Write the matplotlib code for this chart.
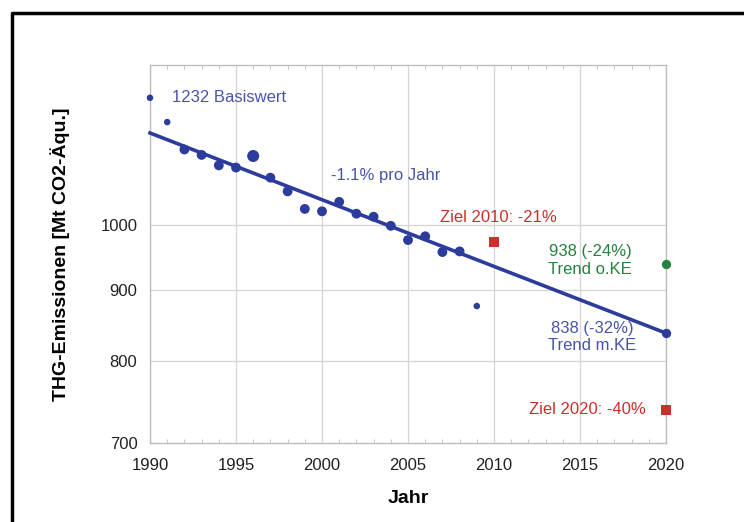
import matplotlib
matplotlib.use("Agg")
import matplotlib.pyplot as plt
from matplotlib.lines import Line2D
import numpy as np

plt.rcParams['font.family'] = ['Liberation Sans', 'DejaVu Sans']

years = [1990, 1991, 1992, 1993, 1994, 1995, 1996, 1997, 1998, 1999,
         2000, 2001, 2002, 2003, 2004, 2005, 2006, 2007, 2008, 2009]
emissions = [1232, 1184, 1132, 1122, 1103, 1099, 1120, 1081, 1057, 1027,
             1023, 1039, 1019, 1014, 999, 976, 982, 957, 958, 876]
small_years = [1990, 1991, 2009]
big_years = [1996]

trend_years = [1990, 2020]
trend_values = [1163, 838]

target_years = [2010, 2020]
target_values = [973, 739]

trend_oke_year = [2020]
trend_oke_value = [938]

xticks = [1990, 1995, 2000, 2005, 2010, 2015, 2020]
yticks = [700, 800, 900, 1000]

blue = '#2c3c9c'
blue_txt = '#4a54a6'
red = '#cc2f2a'
green = '#268040'
grid_c = '#d4d4d4'

fig = plt.figure(figsize=(7.44, 5.22), dpi=100)
ax = fig.add_axes([150/744, 1-443/522, (666-150)/744, (443-65)/522])

ax.set_yscale('log')
ax.set_xlim(1990, 2020)
ax.set_ylim(700, 1300)

ax.plot(trend_years, trend_values, color=blue, lw=2.6, zorder=3, clip_on=False)

sizes = []
for y in years:
    if y in small_years:
        sizes.append(22)
    elif y in big_years:
        sizes.append(75)
    else:
        sizes.append(50)
ax.scatter(years, emissions, s=sizes, color=blue, zorder=4, linewidths=0, clip_on=False)
ax.scatter([2020], [trend_values[-1]], s=45, color=blue, zorder=4, linewidths=0, clip_on=False)
ax.scatter(trend_oke_year, trend_oke_value, s=45, color=green, zorder=4, linewidths=0, clip_on=False)
ax.scatter(target_years, target_values, s=45, marker='s', color=red, zorder=4, linewidths=0, clip_on=False)

ax.set_xticks(xticks)
ax.set_xticklabels([str(x) for x in xticks])
ax.set_xticks(np.arange(1990, 2021, 1), minor=True)
ax.set_yticks(yticks)
ax.set_yticklabels([str(v) for v in yticks])
ax.yaxis.set_minor_locator(matplotlib.ticker.NullLocator())
ax.tick_params(axis='both', which='major', labelsize=12, length=0, colors='#222222')
ax.tick_params(axis='x', which='major', pad=11, top=True)
ax.tick_params(axis='y', which='major', pad=9)
ax.tick_params(axis='x', which='minor', direction='in', length=3, top=True, bottom=True, color='#bbbbbb')
ax.grid(True, which='major', color=grid_c, lw=0.9)
for s in ax.spines.values():
    s.set_color('#bdbdbd')
    s.set_linewidth(1.0)

ax.set_xlabel('Jahr', fontsize=14, fontweight='bold', labelpad=12)
ax.set_ylabel('THG-Emissionen [Mt CO2-Äqu.]', fontsize=14, fontweight='bold', labelpad=22)

fs = 12
ax.text(1991.28, 1232, '1232 Basiswert', color=blue_txt, fontsize=fs, va='center', ha='left')
ax.text(2000.5, 1085, '-1.1% pro Jahr', color=blue_txt, fontsize=fs, va='center', ha='left')
ax.text(2006.85, 1012, 'Ziel 2010: -21%', color=red, fontsize=fs, va='center', ha='left')
ax.text(2015.6, 944, '938 (-24%)\nTrend o.KE', color=green, fontsize=fs, va='center', ha='center', linespacing=1.2)
ax.text(2015.7, 833, '838 (-32%)\nTrend m.KE', color=blue_txt, fontsize=fs, va='center', ha='center', linespacing=1.2)
ax.text(2018.8, 739, 'Ziel 2020: -40%', color=red, fontsize=fs, va='center', ha='right')

fig.add_artist(Line2D([11.5/744, 11.5/744, 1.0], [0.0, 1-13/522, 1-13/522],
                      transform=fig.transFigure, color='black', lw=2.5))

fig.savefig('out.png', dpi=100)
